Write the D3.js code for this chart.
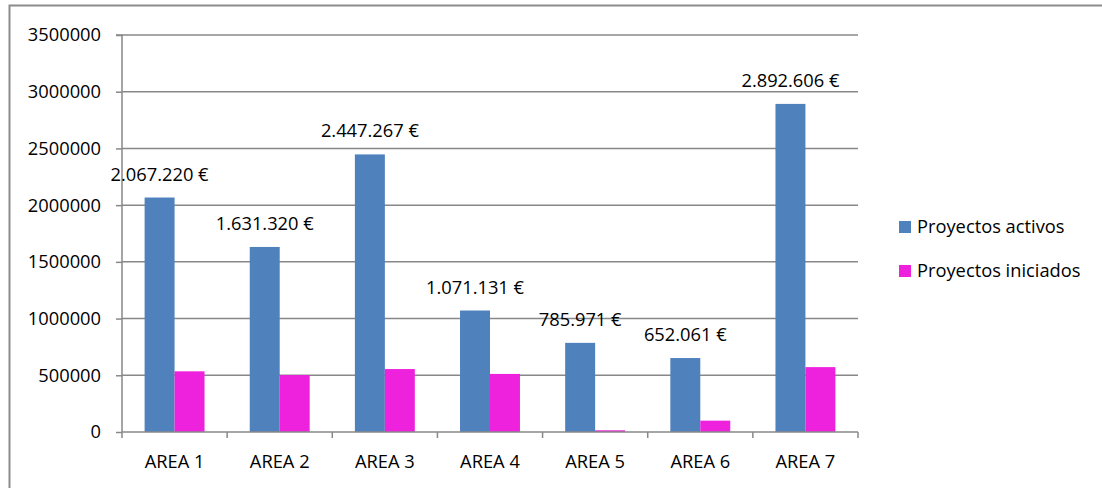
<!DOCTYPE html>
<html><head><meta charset="utf-8">
<script src="https://cdn.jsdelivr.net/npm/d3@7"></script>
<style>body{margin:0;background:#fff;} svg{display:block;} text{font-family:"Open Sans","Noto Sans",sans-serif;fill:#000;}</style>
</head><body><svg id="c" width="1102" height="488"></svg>
<script>
const categories = ["AREA 1","AREA 2","AREA 3","AREA 4","AREA 5","AREA 6","AREA 7"];
const activos = [2067220,1631320,2447267,1071131,785971,652061,2892606];
const iniciados = [535000,502000,555000,512000,15000,100000,572000];
const labels = ["2.067.220 €","1.631.320 €","2.447.267 €","1.071.131 €","785.971 €","652.061 €","2.892.606 €"];
const seriesNames = ["Proyectos activos","Proyectos iniciados"];
const colors = ["#4f81bd","#ee22dd"];
const yTicks = [0,500000,1000000,1500000,2000000,2500000,3000000,3500000];

const FS = "18.3px";
const svg = d3.select("#c");
svg.append("rect").attr("x",9.5).attr("y",5.5).attr("width",1100).attr("height",490)
  .attr("fill","none").attr("stroke","#8c8c8c").attr("stroke-width",2);

const L=122,R=858,T=35,B=432;
const x = d3.scaleBand().domain(categories).range([L,R]).paddingInner(0.43).paddingOuter(0.215);
const y = d3.scaleLinear().domain([0,3500000]).range([B,T]);

// gridlines
svg.append("g").selectAll("line").data(yTicks.slice(1)).join("line")
  .attr("x1",L).attr("x2",R).attr("y1",d=>y(d)).attr("y2",d=>y(d))
  .attr("stroke","#888").attr("stroke-width",1.5);

// y axis
const ya = svg.append("g").attr("transform",`translate(${L},0)`)
  .call(d3.axisLeft(y).tickValues(yTicks).tickFormat(d=>String(d)).tickSize(6).tickPadding(15));
ya.select(".domain").attr("stroke","#888").attr("stroke-width",1.5).attr("d",`M-6,${T}H0V${B}`);
ya.selectAll(".tick line").attr("stroke","#888").attr("stroke-width",1.5);
ya.selectAll(".tick text").style("font-size",FS).attr("fill","#000");

const sub = d3.scaleBand().domain([0,1]).range([0,x.bandwidth()]);

const g = svg.append("g");
[activos,iniciados].forEach((vals,si)=>{
  g.selectAll(null).data(vals).join("rect")
    .attr("x",(d,i)=>x(categories[i])+sub(si))
    .attr("width",sub.bandwidth())
    .attr("y",d=>y(d)).attr("height",d=>B-y(d))
    .attr("fill",colors[si]);
});

// x axis
const xa = svg.append("g").attr("transform",`translate(0,${B})`);
xa.append("line").attr("x1",L).attr("x2",R).attr("stroke","#888").attr("stroke-width",1.5);
const tickXs = d3.range(categories.length+1).map(i=>L+i*(R-L)/categories.length);
xa.selectAll(".tk").data(tickXs).join("line").attr("x1",d=>d).attr("x2",d=>d).attr("y1",0).attr("y2",6)
  .attr("stroke","#888").attr("stroke-width",1.5);
xa.selectAll("text").data(categories).join("text")
  .attr("x",d=>x(d)+x.bandwidth()/2).attr("y",36).attr("text-anchor","middle")
  .style("font-size",FS).text(d=>d);

// data labels
svg.append("g").selectAll("text").data(activos).join("text")
  .attr("x",(d,i)=>x(categories[i])+sub(0)+sub.bandwidth()/2)
  .attr("y",d=>y(d)-17).attr("text-anchor","middle")
  .style("font-size",FS).text((d,i)=>labels[i]);

// legend
const lg = svg.append("g");
seriesNames.forEach((n,i)=>{
  const yy = 227 + i*44;
  lg.append("rect").attr("x",899).attr("y",yy-6).attr("width",12).attr("height",12).attr("fill",colors[i]);
  lg.append("text").attr("x",917).attr("y",yy+6).style("font-size",FS).text(n);
});
</script></body></html>
